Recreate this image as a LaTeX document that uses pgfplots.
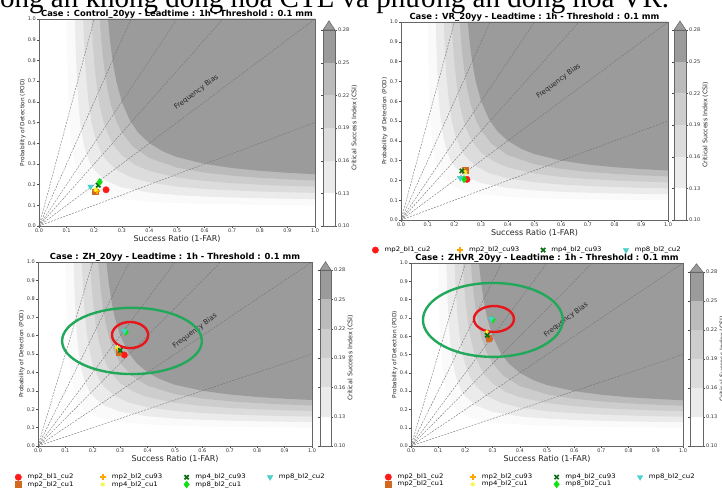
\documentclass[border=0pt]{standalone}
\usepackage{fontspec}
\setmainfont{DejaVu Sans}
\newfontfamily\viet{Liberation Serif}
\newfontfamily\legfont{DejaVu Sans}[FakeStretch=1.12]
\usepackage{pgfplots}
\pgfplotsset{compat=1.18}

\definecolor{c10}{HTML}{FAFAFA}
\definecolor{c13}{HTML}{EBEBEB}
\definecolor{c16}{HTML}{DCDCDC}
\definecolor{c19}{HTML}{CDCDCD}
\definecolor{c22}{HTML}{BBBBBB}
\definecolor{c25}{HTML}{9B9B9B}
\definecolor{mred}{HTML}{FF1A1A}
\definecolor{mbrown}{HTML}{D2691E}
\definecolor{morange}{HTML}{FFA500}
\definecolor{myellow}{HTML}{F5F53A}
\definecolor{mdkgreen}{HTML}{0A6E14}
\definecolor{mgreen}{HTML}{10E010}
\definecolor{mcyan}{HTML}{48D1CC}
\definecolor{ellgreen}{HTML}{22A85A}
\definecolor{ellred}{HTML}{E8161B}

\pgfplotsset{
  perf/.style={
    scale only axis, anchor=south west,
    xmin=0, xmax=1, ymin=0, ymax=1,
    xtick={0,0.1,0.2,0.3,0.4,0.5,0.6,0.7,0.8,0.9,1.0},
    ytick={0,0.1,0.2,0.3,0.4,0.5,0.6,0.7,0.8,0.9,1.0},
    tick align=outside, tick pos=left, major tick length=2pt,
    tick style={black!70, line width=0.3pt},
    axis line style={black!60, line width=0.5pt},
    axis background/.style={fill=white},
    axis on top,
    ticklabel style={font=\fontsize{5}{5.5}\selectfont, text=black!80, inner sep=1pt},
    xticklabel style={/pgf/number format/.cd, fixed, fixed zerofill, precision=1, assume math mode=true},
    yticklabel style={/pgf/number format/.cd, fixed, fixed zerofill, precision=1, assume math mode=true},
    xlabel={Success Ratio (1-FAR)}, ylabel={Probability of Detection (POD)},
    xlabel style={font=\fontsize{8}{9}\selectfont, text=black!85, inner sep=1pt},
    ylabel style={font=\fontsize{5.8}{6.5}\selectfont, text=black!85, inner sep=1pt},
    every axis title shift=0pt,
    title style={font=\bfseries\fontsize{8.4}{9}\selectfont, at={(0.5,1)}, anchor=south, inner sep=0.8pt},
    legend columns=4,
    legend cell align=left,
    legend style={draw=none, fill=none, anchor=north, font=\legfont\fontsize{6.2}{6.5}\selectfont, row sep=-3pt,
      /tikz/every odd column/.append style={column sep=4pt}},
  },
  cbar/.style={
    scale only axis, anchor=south west,
    xmin=0, xmax=1, ymin=0.10, ymax=0.28,
    xtick=\empty, ytick={0.10,0.13,0.16,0.19,0.22,0.25,0.28},
    yticklabel pos=right, tick align=outside, major tick length=2pt,
    tick style={black!70, line width=0.3pt},
    axis line style={black!60, line width=0.5pt},
    axis on top, clip=false,
    ticklabel style={font=\fontsize{5}{5.5}\selectfont, text=black!80, inner sep=1pt},
    yticklabel style={/pgf/number format/.cd, fixed, fixed zerofill, precision=2, assume math mode=true},
    ylabel={Critical Success Index (CSI)}, ylabel near ticks,
    ylabel style={font=\fontsize{6.3}{7}\selectfont, text=black!85, inner sep=1pt},
  },
  band/.style={draw=none, forget plot},
  biasline/.style={black!55, line width=0.4pt, dash pattern=on 2pt off 1.2pt, forget plot},
  mk1/.style={only marks, mark=*, mark size=3.2pt, color=mred},
  mk2/.style={only marks, mark=square*, mark size=2.8pt, color=mbrown},
  mk3/.style={only marks, mark=+, mark size=3.2pt, line width=1.7pt, color=morange},
  mk4/.style={only marks, mark=asterisk, mark size=2.4pt, line width=0.9pt, color=myellow},
  mk5/.style={only marks, mark=x, mark size=3pt, line width=1.7pt, color=mdkgreen},
  mk6/.style={only marks, mark=diamond*, mark size=3.6pt, color=mgreen},
  mk7/.style={only marks, mark=triangle*, mark size=3.2pt, color=mcyan, mark options={rotate=180}},
}

\newcommand\CSIbands{%
\addplot[band, fill=c10] coordinates {(0.10,1) (0.1025,0.804) (0.105,0.678) (0.1075,0.589) (0.11,0.524) (0.115,0.434) (0.12,0.375) (0.13,0.302) (0.14,0.259) (0.155,0.2199) (0.17,0.195) (0.2,0.1667) (0.25,0.1429) (0.3,0.1304) (0.4,0.1176) (0.5,0.1111) (0.6,0.1071) (0.7,0.1045) (0.8,0.1026) (0.9,0.1011) (1,0.10) (1,1)} -- cycle;
\addplot[band, fill=c13] coordinates {(0.13,1) (0.1325,0.873) (0.135,0.778) (0.14,0.645) (0.145,0.557) (0.15,0.494) (0.16,0.409) (0.17,0.356) (0.185,0.304) (0.20,0.271) (0.24,0.221) (0.3,0.1866) (0.4,0.1615) (0.5,0.1494) (0.6,0.1423) (0.7,0.1377) (0.8,0.1344) (0.9,0.1319) (1,0.13) (1,1)} -- cycle;
\addplot[band, fill=c16] coordinates {(0.16,1) (0.165,0.841) (0.17,0.731) (0.18,0.590) (0.19,0.503) (0.20,0.444) (0.21,0.402) (0.225,0.356) (0.24,0.324) (0.28,0.272) (0.33,0.237) (0.4,0.2105) (0.5,0.1905) (0.6,0.1791) (0.7,0.1718) (0.8,0.1667) (0.9,0.1629) (1,0.16) (1,1)} -- cycle;
\addplot[band, fill=c19] coordinates {(0.19,1) (0.195,0.881) (0.20,0.792) (0.21,0.666) (0.22,0.582) (0.235,0.498) (0.25,0.442) (0.27,0.391) (0.30,0.341) (0.35,0.294) (0.4,0.266) (0.5,0.2346) (0.6,0.2176) (0.7,0.2068) (0.8,0.1995) (0.9,0.1941) (1,0.19) (1,1)} -- cycle;
\addplot[band, fill=c22] coordinates {(0.22,1) (0.225,0.908) (0.23,0.835) (0.24,0.725) (0.25,0.647) (0.26,0.588) (0.28,0.507) (0.30,0.452) (0.34,0.384) (0.4,0.328) (0.5,0.282) (0.6,0.258) (0.7,0.243) (0.8,0.233) (0.9,0.2255) (1,0.22) (1,1)} -- cycle;
\addplot[band, fill=c25] coordinates {(0.25,1) (0.255,0.927) (0.26,0.867) (0.27,0.772) (0.28,0.700) (0.30,0.600) (0.33,0.508) (0.36,0.450) (0.40,0.400) (0.45,0.360) (0.5,0.333) (0.6,0.300) (0.7,0.280) (0.8,0.2667) (0.9,0.2571) (1,0.25) (1,1)} -- cycle;
\addplot[biasline] coordinates {(0,0) (1,0.5)};
\addplot[biasline] coordinates {(0,0) (1,1)};
\addplot[biasline] coordinates {(0,0) (0.6667,1)};
\addplot[biasline] coordinates {(0,0) (0.5,1)};
\addplot[biasline] coordinates {(0,0) (0.3333,1)};
\addplot[biasline] coordinates {(0,0) (0.2,1)};
}

\newcommand\CBbands{%
\addplot[band, fill=white] coordinates {(0,0.10) (1,0.10) (1,0.13) (0,0.13)} -- cycle;
\addplot[band, fill=c13] coordinates {(0,0.13) (1,0.13) (1,0.16) (0,0.16)} -- cycle;
\addplot[band, fill=c16] coordinates {(0,0.16) (1,0.16) (1,0.19) (0,0.19)} -- cycle;
\addplot[band, fill=c19] coordinates {(0,0.19) (1,0.19) (1,0.22) (0,0.22)} -- cycle;
\addplot[band, fill=c22] coordinates {(0,0.22) (1,0.22) (1,0.25) (0,0.25)} -- cycle;
\addplot[band, fill=c25] coordinates {(0,0.25) (1,0.25) (1,0.28) (0,0.28)} -- cycle;
\addplot[fill=c25, draw=black!60, line width=0.5pt, forget plot] coordinates {(0,0.28) (0.5,0.2885) (1,0.28)} -- cycle;
}

\newcommand\LegendRowOne{%
\addlegendimage{mk1}\addlegendentry{\makebox[70pt][l]{mp2\_bl1\_cu2}}
\addlegendimage{mk3}\addlegendentry{\makebox[70pt][l]{mp2\_bl2\_cu93}}
\addlegendimage{mk5}\addlegendentry{\makebox[70pt][l]{mp4\_bl2\_cu93}}
\addlegendimage{mk7}\addlegendentry{\makebox[46pt][l]{mp8\_bl2\_cu2}}
}
\newcommand\LegendImages{%
\LegendRowOne
\addlegendimage{mk2}\addlegendentry{mp2\_bl2\_cu1}
\addlegendimage{mk4}\addlegendentry{mp4\_bl2\_cu1}
\addlegendimage{mk6}\addlegendentry{mp8\_bl2\_cu1}
}

\begin{document}
\begin{tikzpicture}[x=1pt,y=1pt]
\useasboundingbox (0,0) rectangle (722,488);
\clip (0,0) rectangle (722,488);
\fill[white] (0,0) rectangle (722,488);
\node[anchor=base west, inner sep=0pt, font=\viet\fontsize{29}{30}\selectfont] at (0,480.5) {ông án không đồng hoá CTL và phương án đồng hoá VR.};

% ---------- Panel 1 ----------
\begin{axis}[perf, at={(39pt,262pt)}, width=276pt, height=207pt,
  title={Case : Control\_20yy - Leadtime : 1h - Threshold : 0.1 mm}]
\CSIbands
\node[rotate=37, font=\fontsize{7}{8}\selectfont, text=black!85] at (axis cs:0.57,0.645) {Frequency Bias};
\addplot[mk1, forget plot] coordinates {(0.243,0.175)};
\addplot[mk2, forget plot] coordinates {(0.203,0.165)};
\addplot[mk3, forget plot] coordinates {(0.210,0.170)};
\addplot[mk4, forget plot] coordinates {(0.205,0.176)};
\addplot[mk5, forget plot] coordinates {(0.215,0.197)};
\addplot[mk6, forget plot] coordinates {(0.220,0.213)};
\addplot[mk7, forget plot] coordinates {(0.187,0.190)};
\end{axis}
\begin{axis}[cbar, at={(323pt,262pt)}, width=12pt, height=196pt]
\CBbands
\end{axis}

% ---------- Panel 2 ----------
\begin{axis}[perf, at={(401pt,268pt)}, width=267pt, height=198pt,
  title={Case : VR\_20yy - Leadtime : 1h - Threshold : 0.1 mm},
  legend style={at={(0.5,-0.115)}, xshift=-7pt}]
\CSIbands
\node[rotate=37, font=\fontsize{7}{8}\selectfont, text=black!85] at (axis cs:0.59,0.70) {Frequency Bias};
\LegendRowOne
\addplot[mk1, forget plot] coordinates {(0.247,0.205)};
\addplot[mk2, forget plot] coordinates {(0.240,0.250)};
\addplot[mk3, forget plot] coordinates {(0.236,0.246)};
\addplot[mk4, forget plot] coordinates {(0.240,0.240)};
\addplot[mk5, forget plot] coordinates {(0.228,0.248)};
\addplot[mk6, forget plot] coordinates {(0.236,0.206)};
\addplot[mk7, forget plot] coordinates {(0.222,0.212)};
\end{axis}
\begin{axis}[cbar, at={(674pt,268pt)}, width=12pt, height=190pt]
\CBbands
\end{axis}

\fill[white] (371,0) rectangle (722,234);

% ---------- Panel 3 ----------
\begin{axis}[perf, at={(38pt,42pt)}, width=274pt, height=184pt,
  title={Case : ZH\_20yy - Leadtime : 1h - Threshold : 0.1 mm},
  legend style={at={(0.5,-0.13)}, xshift=-4pt}]
\CSIbands
\node[rotate=37, font=\fontsize{7}{8}\selectfont, text=black!85] at (axis cs:0.573,0.625) {Frequency Bias};
\LegendImages
\addplot[mk1, forget plot] coordinates {(0.315,0.495)};
\addplot[mk2, forget plot] coordinates {(0.295,0.510)};
\addplot[mk3, forget plot] coordinates {(0.290,0.530)};
\addplot[mk4, forget plot] coordinates {(0.290,0.535)};
\addplot[mk5, forget plot] coordinates {(0.300,0.520)};
\addplot[mk6, forget plot] coordinates {(0.320,0.620)};
\addplot[mk7, forget plot] coordinates {(0.315,0.625)};
\draw[ellgreen, line width=2.4pt] (axis cs:0.343,0.571) ellipse [x radius=0.255, y radius=0.18];
\draw[ellred, line width=2.4pt] (axis cs:0.336,0.603) ellipse [x radius=0.066, y radius=0.071];
\end{axis}
\begin{axis}[cbar, at={(320pt,42pt)}, width=11pt, height=176pt]
\CBbands
\end{axis}

% ---------- Panel 4 ----------
\begin{axis}[perf, at={(411pt,42pt)}, width=272pt, height=183pt,
  title={Case : ZHVR\_20yy - Leadtime : 1h - Threshold : 0.1 mm},
  legend style={at={(0.5,-0.13)}, xshift=-6pt}]
\CSIbands
\node[rotate=37, font=\fontsize{7}{8}\selectfont, text=black!85] at (axis cs:0.57,0.69) {Frequency Bias};
\LegendImages
\addplot[mk1, forget plot] coordinates {(0.288,0.585)};
\addplot[mk2, forget plot] coordinates {(0.285,0.590)};
\addplot[mk3, forget plot] coordinates {(0.280,0.615)};
\addplot[mk4, forget plot] coordinates {(0.278,0.620)};
\addplot[mk5, forget plot] coordinates {(0.280,0.605)};
\addplot[mk6, forget plot] coordinates {(0.300,0.690)};
\addplot[mk7, forget plot] coordinates {(0.295,0.695)};
\draw[ellgreen, line width=2.4pt] (axis cs:0.301,0.689) ellipse [x radius=0.257, y radius=0.202];
\draw[ellred, line width=2.4pt] (axis cs:0.305,0.694) ellipse [x radius=0.0735, y radius=0.071];
\end{axis}
\begin{axis}[cbar, at={(690pt,42pt)}, width=13pt, height=174pt]
\CBbands
\end{axis}
\end{tikzpicture}
\end{document}
